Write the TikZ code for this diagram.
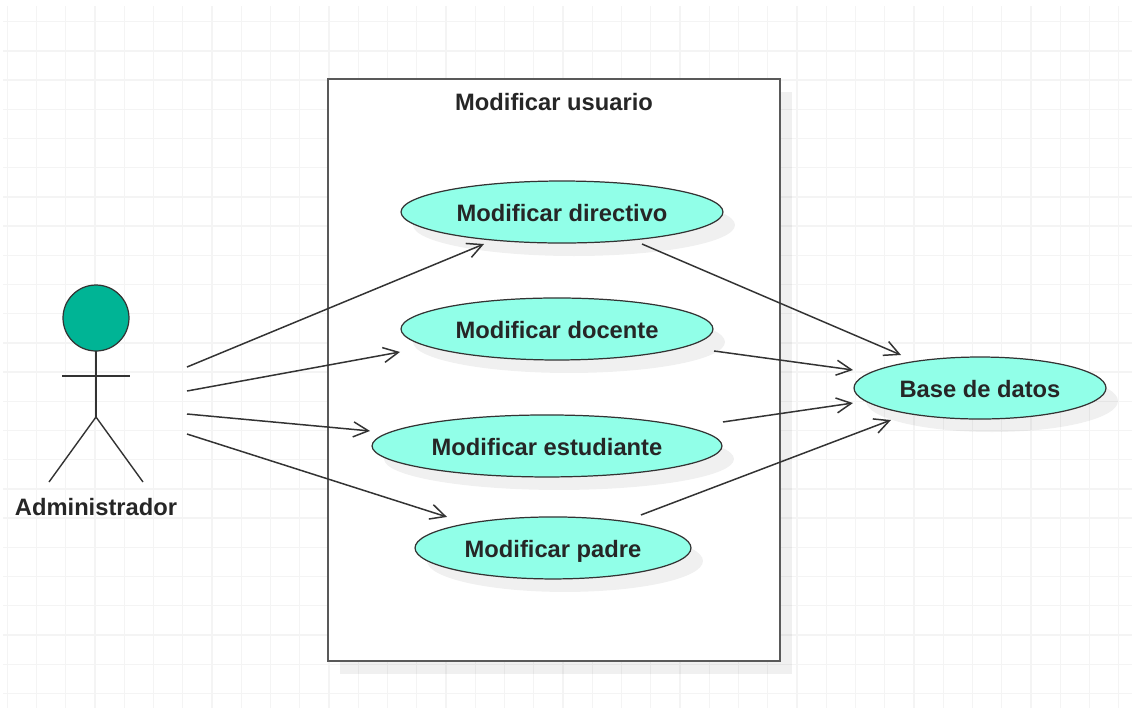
\documentclass[tikz,border=0pt]{standalone}
\usepackage{fontspec}
\setmainfont{Liberation Sans}
\usetikzlibrary{arrows.meta, positioning, shapes.geometric, shadows}

\definecolor{gridline}{HTML}{F4F4F4}
\definecolor{inkline}{HTML}{333333}
\definecolor{caseteal}{HTML}{91FFE8}
\definecolor{headteal}{HTML}{00B495}

\tikzset{
  softshadow/.style={drop shadow={shadow xshift=0.24cm, shadow yshift=-0.26cm, fill=black, opacity=0.06}},
  usecase/.style={ellipse, draw=inkline, line width=0.7pt, fill=caseteal, softshadow, inner sep=0pt, outer sep=0pt,
    minimum height=1.24cm, text=black!85, text height=10.6pt, text depth=0pt, font=\fontsize{13.5}{16}\selectfont\bfseries},
  assoc/.style={draw=inkline, line width=0.85pt, -{Straight Barb[length=0.3cm, width=0.3cm]}},
  limb/.style={draw=inkline, line width=0.8pt},
  caption/.style={text=black!85, font=\fontsize{13.5}{16}\selectfont\bfseries}
}

\begin{document}
\begin{tikzpicture}[x=0.02cm, y=-0.02cm]
  \useasboundingbox (0,0) rectangle (1132,708);

  % grid
  \foreach \k in {0,...,38}
    \draw[gridline, line width=0.7pt] ({7.3+29.25*\k},6) -- ({7.3+29.25*\k},708);
  \foreach \k in {0,...,23}
    \draw[gridline, line width=0.7pt] (3,{21.7+29.2*\k}) -- (1132,{21.7+29.2*\k});

  % system boundary
  \node[rectangle, draw=black!65, line width=1.1pt, fill=white, softshadow, inner sep=0pt, outer sep=0pt,
    minimum width=9.04cm, minimum height=11.64cm] (frame) at (554,370) {};
  \node[caption] (title) at (554,102.5) {Modificar usuario};

  % use cases
  \node[usecase, minimum width=6.44cm] (directivo) at (562,212) {Modificar directivo};
  \node[usecase, minimum width=6.24cm, below=1.1cm of directivo, xshift=-0.1cm] (docente) {Modificar docente};
  \node[usecase, minimum width=7.0cm, below=1.1cm of docente, xshift=-0.2cm] (estudiante) {Modificar estudiante};
  \node[usecase, minimum width=5.52cm, below=0.8cm of estudiante, xshift=0.12cm] (padre) {Modificar padre};
  \node[usecase, minimum width=5.04cm] (base) at (980,388) {Base de datos};

  % actor
  \node[circle, draw=inkline, line width=0.7pt, fill=headteal, minimum size=1.32cm, inner sep=0pt, outer sep=0pt] (head) at (96,318) {};
  \coordinate (hip) at (96,417);
  \coordinate (armL) at (62,376);
  \coordinate (armR) at (130,376);
  \coordinate (footL) at (49,482);
  \coordinate (footR) at (143,482);
  \node[caption] (admin) at (96,507) {Administrador};
  \draw[limb] (head) -- (hip);
  \draw[limb] (armL) -- (armR);
  \draw[limb] (footL) -- (hip) -- (footR);

  % actor side ends
  \coordinate (a1) at (187,367);
  \coordinate (a2) at (187,391);
  \coordinate (a3) at (187,414);
  \coordinate (a4) at (187,434);

  % associations
  \draw[assoc] (a1) -- ([shift={(-78,32)}]directivo.center);
  \draw[assoc] (a2) -- ([shift={(-157,23)}]docente.center);
  \draw[assoc] (a3) -- ([shift={(-177,-15)}]estudiante.center);
  \draw[assoc] (a4) -- ([shift={(-106,-31)}]padre.center);
  \draw[assoc] ([shift={(80,32)}]directivo.center) -- ([shift={(-79,-33)}]base.center);
  \draw[assoc] ([shift={(157,22)}]docente.center) -- ([shift={(-127,-18)}]base.center);
  \draw[assoc] ([shift={(176,-24)}]estudiante.center) -- ([shift={(-127,15)}]base.center);
  \draw[assoc] ([shift={(88,-33)}]padre.center) -- ([shift={(-89,32)}]base.center);
\end{tikzpicture}
\end{document}
